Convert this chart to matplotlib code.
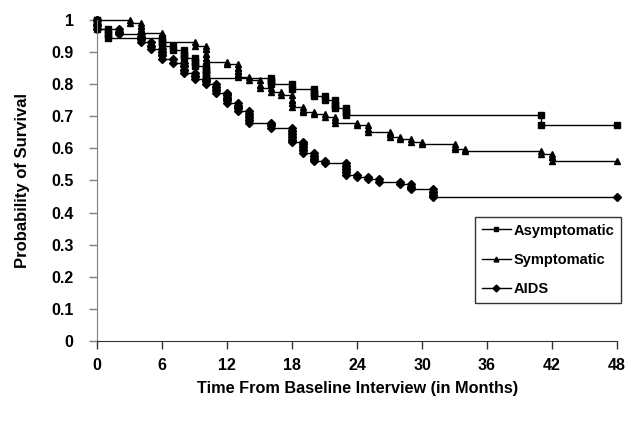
import matplotlib
matplotlib.use("Agg")
import matplotlib.pyplot as plt

plt.rcParams['font.family'] = ['Liberation Sans', 'DejaVu Sans']

# Event times (months) and survival after each event (ties repeated)
asym_times = [0, 0, 1, 1, 6, 6, 7, 8, 8, 9, 9, 10, 10, 10,
              16, 16, 18, 20, 20, 21, 22, 22, 23, 23, 41]
asym_surv = [0.985, 0.97, 0.957, 0.943, 0.93, 0.918, 0.905, 0.892, 0.88, 0.868, 0.856, 0.844, 0.832, 0.818,
             0.81, 0.80, 0.786, 0.772, 0.762, 0.75, 0.735, 0.726, 0.714, 0.705, 0.672]

symp_times = [3, 4, 4, 4, 6, 6, 6, 9, 10, 10, 10, 10, 12, 13, 13, 13, 13, 14, 15, 15, 16, 17,
              18, 18, 18, 19, 19, 20, 21, 22, 22, 24, 25, 25, 27, 27, 28, 29, 30, 33, 33, 34, 41, 42, 42]
symp_surv = [0.99, 0.98, 0.97, 0.96, 0.95, 0.94, 0.93, 0.92, 0.908, 0.895, 0.882, 0.87, 0.862,
             0.851, 0.841, 0.831, 0.822, 0.813, 0.797, 0.787, 0.776, 0.765,
             0.75, 0.74, 0.73, 0.72, 0.712, 0.706, 0.697, 0.688, 0.68, 0.671, 0.66, 0.652,
             0.643, 0.635, 0.628, 0.621, 0.613, 0.605, 0.598, 0.591, 0.583, 0.572, 0.561]

aids_times = [0, 0, 2, 2, 4, 4, 4, 5, 5, 6, 6, 6, 7, 8, 8, 8, 9, 9, 10, 10, 11, 11, 11,
              12, 12, 12, 12, 13, 13, 13, 14, 14, 14, 14, 16, 16, 18, 18, 18, 18, 18,
              19, 19, 19, 19, 20, 20, 20, 21, 23, 23, 23, 23, 24, 25, 26, 28, 29, 29, 31, 31, 31]
aids_surv = [0.985, 0.97, 0.963, 0.956, 0.948, 0.94, 0.93, 0.92, 0.91, 0.9, 0.89, 0.877, 0.866,
             0.855, 0.845, 0.835, 0.826, 0.817, 0.808, 0.8, 0.79, 0.78, 0.772,
             0.765, 0.757, 0.749, 0.741, 0.733, 0.724, 0.715, 0.706, 0.697, 0.688, 0.679,
             0.671, 0.663, 0.654, 0.645, 0.636, 0.627, 0.62, 0.612, 0.603, 0.594, 0.585,
             0.577, 0.568, 0.56, 0.554, 0.545, 0.536, 0.527, 0.518, 0.512, 0.505, 0.496,
             0.488, 0.48, 0.472, 0.463, 0.455, 0.447]

end_time = 48
x_ticks = [0, 6, 12, 18, 24, 30, 36, 42, 48]
y_ticks = [0, 0.1, 0.2, 0.3, 0.4, 0.5, 0.6, 0.7, 0.8, 0.9, 1.0]
y_tick_labels = ['0', '0.1', '0.2', '0.3', '0.4', '0.5', '0.6', '0.7', '0.8', '0.9', '1']


def km_points(times, survs):
    xs, ys, prev = [0], [1.0], 1.0
    for t, s in zip(times, survs):
        xs += [t, t]
        ys += [prev, s]
        prev = s
    xs.append(end_time)
    ys.append(prev)
    return xs, ys


fig = plt.figure(figsize=(6.4, 4.22), dpi=100)
ax = fig.add_axes([0.152, 0.192, 0.812, 0.761])

series = [
    ('Asymptomatic', asym_times, asym_surv, 's', 4.8),
    ('Symptomatic', symp_times, symp_surv, '^', 4.3),
    ('AIDS', aids_times, aids_surv, 'D', 4.2),
]
for label, t, s, m, ms in series:
    xs, ys = km_points(t, s)
    ax.plot(xs, ys, color='black', lw=1.0, marker=m, ms=ms,
            mfc='black', mec='black', label=label, clip_on=False)

ax.set_xlim(0, 48)
ax.set_ylim(0, 1)
ax.set_xticks(x_ticks)
ax.set_xticklabels([str(v) for v in x_ticks], fontsize=11.5, fontweight='bold')
ax.set_yticks(y_ticks)
ax.set_yticklabels(y_tick_labels, fontsize=11.5, fontweight='bold')
ax.tick_params(axis='x', direction='out', length=6, width=1, pad=6, color='#333333')
ax.tick_params(axis='y', direction='out', length=6, width=1, pad=11, color='#7f7f7f')

for sp in ['top', 'right']:
    ax.spines[sp].set_visible(False)
ax.spines['left'].set_color('#7f7f7f')
ax.spines['bottom'].set_color('#333333')

ax.set_xlabel('Time From Baseline Interview (in Months)', fontsize=11.7,
              fontweight='bold', labelpad=6)
ax.set_ylabel('Probability of Survival', fontsize=12, fontweight='bold', labelpad=15)

leg = ax.legend(loc='upper left', bbox_to_anchor=(475 / 640, 1 - 217 / 422),
                bbox_transform=fig.transFigure, frameon=True, fancybox=False,
                edgecolor='black', handlelength=2.0, handletextpad=0.2,
                labelspacing=1.05, borderpad=0.45, borderaxespad=0,
                prop={'weight': 'bold', 'size': 10.5})
leg.get_frame().set_linewidth(1.0)
for h in leg.legend_handles:
    h.set_markersize(3.5)

fig.savefig('out.png', dpi=100, facecolor='white')
